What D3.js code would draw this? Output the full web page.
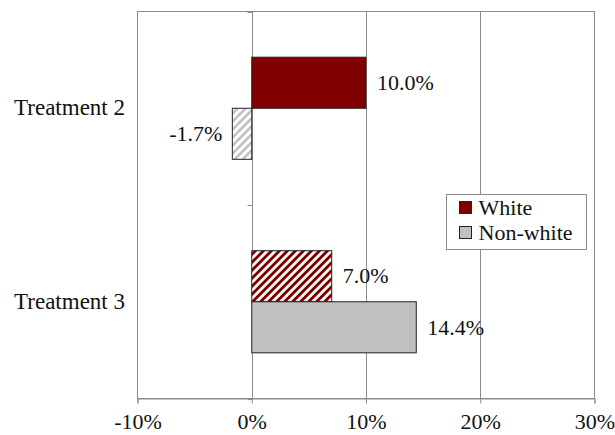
<!DOCTYPE html>
<html>
<head>
<meta charset="utf-8">
<script src="https://cdn.jsdelivr.net/npm/d3@7"></script>
<style>
  html, body { margin: 0; padding: 0; background: #fff; }
</style>
</head>
<body>
<svg id="chart" width="615" height="435"></svg>
<script>
// Change in outcome by treatment arm and group
const categories = ["Treatment 2", "Treatment 3"];
const seriesNames = ["White", "Non-white"];
const whiteValues = [0.100, 0.070];
const nonWhiteValues = [-0.017, 0.144];
const tickValues = [-0.1, 0, 0.1, 0.2, 0.3];

// fill style per bar: solid or hatched, per category
const fills = {
  "White": ["solid", "hatch"],
  "Non-white": ["hatch", "solid"]
};
const colors = { "White": "#800000", "Non-white": "#c0c0c0" };

const rows = [];
categories.forEach((c, i) => {
  rows.push({ cat: c, series: "White", value: whiteValues[i], style: fills["White"][i] });
  rows.push({ cat: c, series: "Non-white", value: nonWhiteValues[i], style: fills["Non-white"][i] });
});

const FONT = '"Liberation Serif", "Times New Roman", serif';
const svg = d3.select("#chart");
const plotLeft = 137.5, plotRight = 594.5, plotTop = 11.5, plotBottom = 398.5;

const x = d3.scaleLinear().domain([-0.1, 0.3]).range([plotLeft, plotRight]);
const y = d3.scaleBand().domain(categories).range([plotTop, plotBottom]).padding(0);
const ySub = d3.scaleBand().domain(seriesNames).range([0, y.bandwidth()])
  .paddingInner(0).paddingOuter(0.895);

// hatch patterns
const defs = svg.append("defs");
function hatch(id, color, w) {
  const p = defs.append("pattern")
    .attr("id", id)
    .attr("patternUnits", "userSpaceOnUse")
    .attr("width", 5.66).attr("height", 5.66)
    .attr("patternTransform", "rotate(45)");
  p.append("rect").attr("width", 5.66).attr("height", 5.66).attr("fill", "#fff");
  p.append("rect").attr("width", w).attr("height", 5.66).attr("fill", color);
}
hatch("hatch-White", colors["White"], 2.9);
hatch("hatch-Non-white", colors["Non-white"], 2.6);

const gridColor = "#8c8c8c";

// plot frame
svg.append("rect")
  .attr("x", plotLeft).attr("y", plotTop)
  .attr("width", plotRight - plotLeft).attr("height", plotBottom - plotTop)
  .attr("fill", "none").attr("stroke", gridColor).attr("stroke-width", 1);

// vertical gridlines
svg.append("g").selectAll("line")
  .data(tickValues.slice(1, -1))
  .join("line")
  .attr("x1", d => Math.round(x(d)) + 0.5).attr("x2", d => Math.round(x(d)) + 0.5)
  .attr("y1", plotTop).attr("y2", plotBottom)
  .attr("stroke", gridColor).attr("stroke-width", 1);

// bottom axis
const xAxis = d3.axisBottom(x)
  .tickValues(tickValues)
  .tickSize(5)
  .tickPadding(10)
  .tickFormat(d => Math.round(d * 100) + "%");
const gx = svg.append("g").attr("transform", `translate(0,${plotBottom})`).call(xAxis);
gx.select(".domain").attr("stroke", gridColor);
gx.selectAll(".tick line").attr("stroke", gridColor);
gx.selectAll(".tick text").attr("fill", "#111")
  .style("font-size", "22px").style("font-family", FONT);

// category axis at zero
const x0 = Math.round(x(0)) + 0.5;
const catEdges = [plotTop, ...categories.slice(1).map(c => y(c)), plotBottom];
svg.append("g").selectAll("line")
  .data(catEdges)
  .join("line")
  .attr("x1", x0 - 5).attr("x2", x0)
  .attr("y1", d => Math.round(d) + 0.5).attr("y2", d => Math.round(d) + 0.5)
  .attr("stroke", gridColor);

// category labels
svg.append("g").selectAll("text")
  .data(categories)
  .join("text")
  .attr("x", 125)
  .attr("y", d => y(d) + y.bandwidth() / 2 - 0.5)
  .attr("text-anchor", "end")
  .attr("dy", "0.33em")
  .attr("fill", "#111")
  .style("font-family", FONT).style("font-size", "23px")
  .text(d => d);

// bars
svg.append("g").selectAll("rect")
  .data(rows)
  .join("rect")
  .attr("x", d => x(Math.min(0, d.value)))
  .attr("y", d => y(d.cat) + ySub(d.series))
  .attr("width", d => Math.abs(x(d.value) - x(0)))
  .attr("height", ySub.bandwidth())
  .attr("fill", d => d.style === "solid" ? colors[d.series] : `url(#hatch-${d.series})`)
  .attr("stroke", "#222")
  .attr("stroke-width", 1);

// value labels
svg.append("g").selectAll("text")
  .data(rows)
  .join("text")
  .attr("x", d => d.value >= 0 ? x(d.value) + 11 : x(d.value) - 10)
  .attr("y", d => y(d.cat) + ySub(d.series) + ySub.bandwidth() / 2)
  .attr("dy", "0.33em")
  .attr("text-anchor", d => d.value >= 0 ? "start" : "end")
  .attr("fill", "#111")
  .style("font-family", FONT).style("font-size", "22px")
  .text(d => (d.value * 100).toFixed(1) + "%");

// legend
const lg = svg.append("g").attr("transform", "translate(446.5,194.5)");
lg.append("rect").attr("width", 140).attr("height", 55)
  .attr("fill", "#fff").attr("stroke", gridColor);
seriesNames.forEach((s, i) => {
  const row = lg.append("g").attr("transform", `translate(13,${7 + i * 25})`);
  row.append("rect").attr("width", 12).attr("height", 12)
    .attr("fill", colors[s]).attr("stroke", "#222");
  row.append("text").attr("x", 19).attr("y", 6).attr("dy", "0.35em")
    .attr("fill", "#111")
    .style("font-family", FONT).style("font-size", "22px")
    .text(s);
});
</script>
</body>
</html>
